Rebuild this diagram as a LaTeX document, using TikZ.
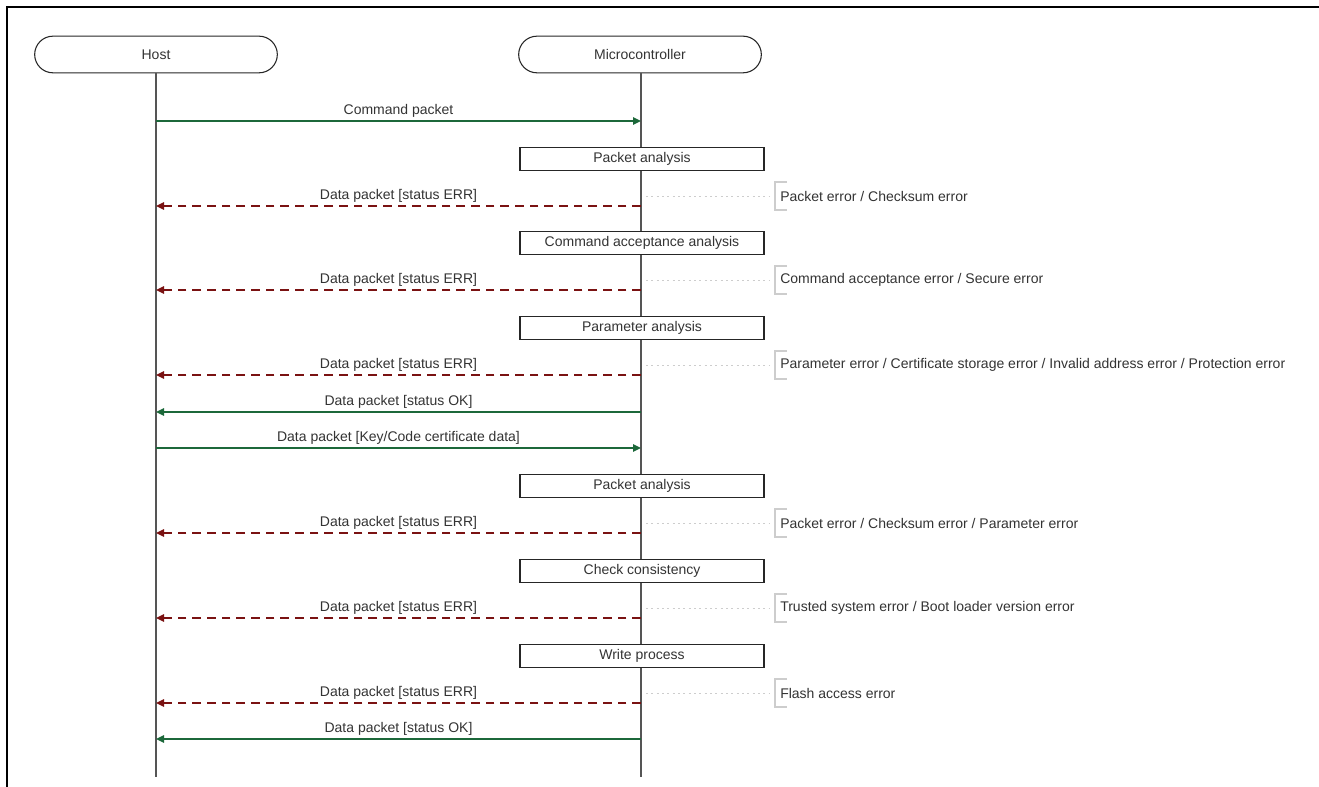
\documentclass[tikz,border=0pt]{standalone}
\usepackage{fontspec}
\setmainfont{Liberation Sans}
\usetikzlibrary{arrows.meta, shapes.misc}

\definecolor{okgreen}{RGB}{28,104,58}
\definecolor{errred}{RGB}{122,18,18}
\definecolor{linegray}{RGB}{85,85,85}
\definecolor{notegray}{RGB}{205,205,205}

\begin{document}
\begin{tikzpicture}[x=0.75pt, y=-0.75pt, font=\fontsize{10.5}{12}\selectfont, text=black!80,
	actor/.style={draw=black!85, thick, rounded rectangle, minimum width=182pt, minimum height=27.5pt, inner sep=0pt},
	stepbox/.style={draw=black!85, thick, rectangle, minimum width=183pt, minimum height=17pt, inner sep=0pt},
	lifeline/.style={draw=linegray, line width=1pt},
	okmsg/.style={draw=okgreen, line width=1.5pt, -{Triangle[length=6pt, width=5.5pt]}},
	errmsg/.style={draw=errred, line width=1.5pt, dash pattern=on 6.5pt off 4.5pt, -{Triangle[length=6pt, width=5.5pt]}},
	msglabel/.style={midway, above=2pt, inner sep=0pt},
	notelink/.style={draw=notegray, line width=0.6pt, dash pattern=on 1.5pt off 2.5pt},
	notebracket/.style={draw=notegray, line width=0.8pt}]

	\useasboundingbox (0,0) rectangle (1319,787);

	% frame (top and left only)
	\draw[line width=1.5pt] (7,787) -- (7,7) -- (1319,7);

	% 1. Host and Microcontroller with their lifelines
	\node[actor] (host) at (156,54.5) {Host};
	\node[actor] (mcu) at (640,54.5) {Microcontroller};
	\coordinate (hostend) at (156,777);
	\coordinate (mcuend) at (641,777);
	\draw[lifeline] (host.south) -- (hostend);
	\draw[lifeline] (mcu.south -| mcuend) -- (mcuend);

	% 2. Command packet
	\coordinate (h0) at (156,121);
	\coordinate (m0) at (641,121);
	\draw[okmsg] (h0) -- node[msglabel] {Command packet} (m0);

	% 3. analysis steps, each with its error reply and a note
	\foreach \y/\stepname/\notetext [count=\i] in {
		159/{Packet analysis}/{Packet error / Checksum error},
		243/{Command acceptance analysis}/{Command acceptance error / Secure error},
		328/{Parameter analysis}/{Parameter error / Certificate storage error / Invalid address error / Protection error},
		486/{Packet analysis}/{Packet error / Checksum error / Parameter error},
		571/{Check consistency}/{Trusted system error / Boot loader version error},
		656/{Write process}/{Flash access error}} {
		\node[stepbox, fill=white] (step\i) at (642,\y) {\stepname};
		\coordinate (herr\i) at (156,\y+47);
		\coordinate (merr\i) at (641,\y+47);
		\draw[errmsg] (merr\i) -- node[msglabel] {Data packet [status ERR]} (herr\i);
		\coordinate (nstart\i) at (646,\y+37);
		\node[anchor=west, inner sep=0pt] (note\i) at (780,\y+37) {\notetext};
		\draw[notelink] (nstart\i) -- (770,\y+37);
		\draw[notebracket] (787,\y+23) -- (775,\y+23) -- (775,\y+51) -- (787,\y+51);
	}

	% 4. status OK after parameter analysis
	\coordinate (mok1) at (641,412);
	\coordinate (hok1) at (156,412);
	\draw[okmsg] (mok1) -- node[msglabel] {Data packet [status OK]} (hok1);

	% 5. certificate data
	\coordinate (hcert) at (156,448);
	\coordinate (mcert) at (641,448);
	\draw[okmsg] (hcert) -- node[msglabel] {Data packet [Key/Code certificate data]} (mcert);

	% 6. final status OK
	\coordinate (mok2) at (641,739);
	\coordinate (hok2) at (156,739);
	\draw[okmsg] (mok2) -- node[msglabel] {Data packet [status OK]} (hok2);
\end{tikzpicture}
\end{document}
